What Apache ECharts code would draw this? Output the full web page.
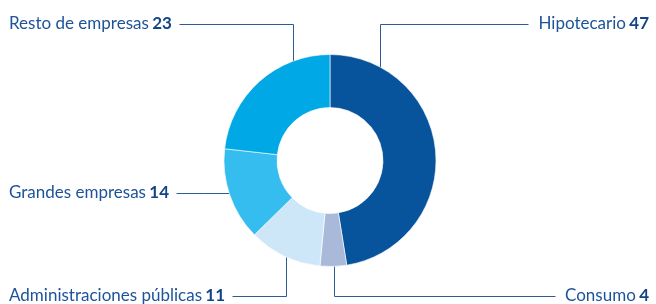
<!DOCTYPE html>
<html><head><meta charset="utf-8">
<script src="https://cdn.jsdelivr.net/npm/echarts@6/dist/echarts.min.js"></script>
<style>html,body{margin:0;padding:0;background:#fff}#c{width:656px;height:304px}</style>
</head><body><div id="c"></div>
<script>
const categories = ['Hipotecario', 'Consumo', 'Administraciones públicas', 'Grandes empresas', 'Resto de empresas'];
const values = [47, 4, 11, 14, 23];
const colors = ['#07539c', '#a9b9da', '#cde7f8', '#36bdef', '#00a9e6'];

const cx = 330, cy = 160.5, R = 106, r = 53;
const labelSpec = [
  { side: 'right', y: 24, ax: 380 },
  { side: 'right', y: 296, ax: 334 },
  { side: 'left', y: 296, ax: 286 },
  { side: 'left', y: 193, ax: null },
  { side: 'left', y: 24, ax: 293 }
];
const TEXT = '#1c5399';
const LINE = '#2c5b98';

const chart = echarts.init(document.getElementById('c'), null, { renderer: 'canvas' });
chart.setOption({
  animation: false,
  series: [{
    type: 'pie',
    center: [cx, cy],
    radius: [r, R],
    startAngle: 90,
    clockwise: true,
    avoidLabelOverlap: false,
    emphasis: { disabled: true },
    itemStyle: { borderColor: '#fff', borderWidth: 0.6 },
    data: categories.map((n, i) => ({ name: n, value: values[i], itemStyle: { color: colors[i] } })),
    label: {
      show: true,
      position: 'outside',
      formatter: p => '{n|' + p.name + '} {v|' + p.value + '}',
      rich: {
        n: { fontFamily: 'Lato', fontSize: 17, color: TEXT },
        v: { fontFamily: 'Lato', fontSize: 17, fontWeight: 'bold', color: '#134586' }
      }
    },
    labelLine: { show: true, smooth: false, lineStyle: { color: LINE, width: 1 } },
    labelLayout: function (params) {
      const s = labelSpec[params.dataIndex];
      const w = params.labelRect.width;
      const y = s.y + 0.5;
      let x, align, xe;
      if (s.side === 'left') { x = 9; align = 'left'; xe = Math.round(9 + w + 7) + 0.5; }
      else { x = 649; align = 'right'; xe = Math.round(649 - w - 10) + 0.5; }
      let pts;
      if (s.ax != null) {
        const ax = s.ax + 0.5;
        const d = Math.sqrt(R * R - (ax - cx) * (ax - cx));
        const ay = s.y < cy ? cy - d + 2 : cy + d - 2;
        pts = [[ax, ay], [ax, y], [xe, y]];
      } else {
        const ax = cx - Math.sqrt(R * R - (y - cy) * (y - cy)) + 2;
        pts = [[ax, y], [(ax + xe) / 2, y], [xe, y]];
      }
      return { x: x, y: s.y, align: align, verticalAlign: 'middle', labelLinePoints: pts };
    }
  }]
});
</script></body></html>
